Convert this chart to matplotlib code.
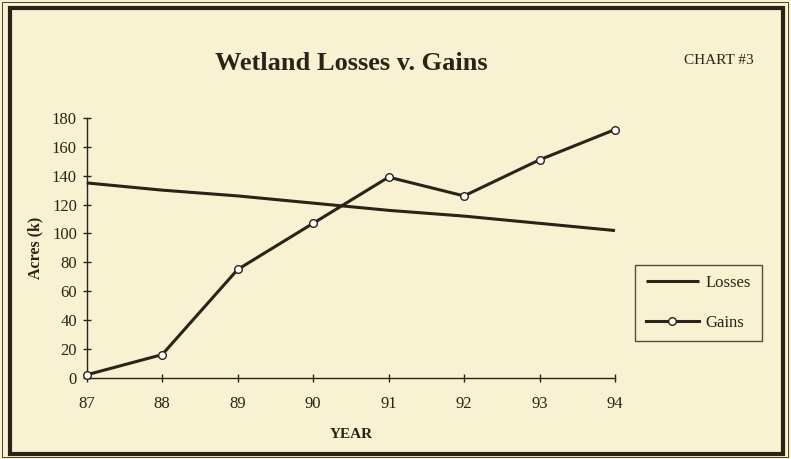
import matplotlib
matplotlib.use("Agg")
import matplotlib.pyplot as plt
from matplotlib.patches import Rectangle

years = [87, 88, 89, 90, 91, 92, 93, 94]
losses = [135, 130, 126, 121, 116, 112, 107, 102]
gains = [2, 16, 75, 107, 139, 126, 151, 172]
yticks = [0, 20, 40, 60, 80, 100, 120, 140, 160, 180]

BG = "#f8f2d3"
INK = "#2a2317"
W, H = 791, 459

plt.rcParams['font.family'] = ['Liberation Serif', 'DejaVu Serif']

fig = plt.figure(figsize=(W / 100, H / 100), dpi=100, facecolor=BG)

# frames
fig.patches.append(Rectangle((2 / W, 2 / H), 786 / W, 455 / H, transform=fig.transFigure,
                             fill=False, edgecolor=INK, linewidth=0.6, zorder=0))
fig.patches.append(Rectangle((9.5 / W, 5 / H), 773 / W, 446 / H, transform=fig.transFigure,
                             fill=False, edgecolor=INK, linewidth=3.0, zorder=0))

ax = fig.add_axes([86.7 / W, (H - 377.7) / H, (615 - 86.7) / W, (377.7 - 118) / H])
ax.set_facecolor("none")

l1, = ax.plot(years, losses, color=INK, linewidth=2.2, solid_capstyle='butt', label="Losses",
              clip_on=False, zorder=3)
l2, = ax.plot(years, gains, color=INK, linewidth=2.2, marker='o', markersize=5.5,
              markerfacecolor='white', markeredgecolor=INK, markeredgewidth=1.0,
              label="Gains", clip_on=False, zorder=4)

ax.set_xlim(87, 94)
ax.set_ylim(0, 180)
ax.set_xticks(years)
ax.set_yticks(yticks)
ax.set_xticklabels([str(y) for y in years])

for s in ['top', 'right']:
    ax.spines[s].set_visible(False)
for s in ['left', 'bottom']:
    ax.spines[s].set_color(INK)
    ax.spines[s].set_linewidth(1.0)

ax.tick_params(axis='both', direction='inout', length=6, width=1.0, color=INK,
               labelcolor=INK, labelsize=12)
ax.tick_params(axis='x', pad=10)
ax.tick_params(axis='y', pad=4)

ax.set_xlabel("YEAR", fontsize=11, fontweight='bold', color=INK, labelpad=12)
ax.set_ylabel("Acres (k)", fontsize=11.5, fontweight='bold', color=INK, labelpad=6)

fig.text(351 / W, 1 - 63 / H, "Wetland Losses v. Gains", ha='center', va='center',
         fontsize=19, fontweight='bold', color=INK)
fig.text(719 / W, 1 - 60 / H, "CHART #3", ha='center', va='center',
         fontsize=11, color=INK)

leg = fig.legend(handles=[l1, l2], loc='center', bbox_to_anchor=(698.5 / W, 1 - 303 / H),
                 fontsize=12, frameon=True, fancybox=False, handlelength=3.2,
                 labelspacing=1.45, borderpad=0.62, handletextpad=0.4, borderaxespad=0)
leg.get_frame().set_edgecolor(INK)
leg.get_frame().set_linewidth(1.0)
leg.get_frame().set_facecolor(BG)
for t in leg.get_texts():
    t.set_color(INK)

fig.savefig("out.png", dpi=100, facecolor=BG)
